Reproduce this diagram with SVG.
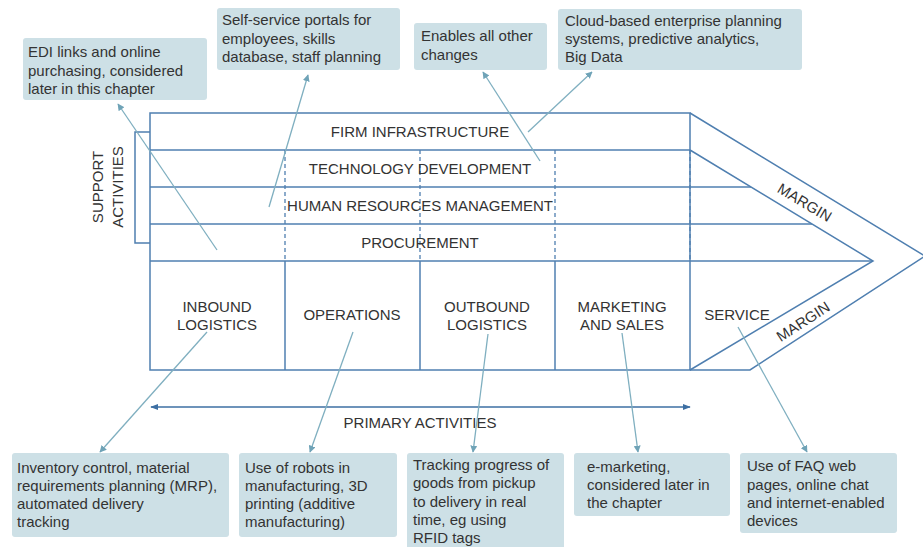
<svg xmlns="http://www.w3.org/2000/svg" width="923" height="547" viewBox="0 0 923 547">
<style>
.frame{fill:none;stroke:#4f7fb0;stroke-width:1.5}
.dash{fill:none;stroke:#4f7fb0;stroke-width:1.3;stroke-dasharray:4 3}
.lbl{font-family:"Liberation Sans",Arial,sans-serif;font-size:15px;fill:#333;text-anchor:middle}
.box{fill:#cde0e6;stroke:none}
.bt{font-family:"Liberation Sans",Arial,sans-serif;font-size:15px;fill:#333}
.con{fill:none;stroke:#7fafc0;stroke-width:1.3;marker-end:url(#ah)}
</style>
<defs>
<marker id="ah" viewBox="0 0 10 10" refX="9" refY="5" markerWidth="7" markerHeight="7" orient="auto" markerUnits="userSpaceOnUse">
<path d="M0,0 L10,5 L0,10 z" fill="#6fa3b7"/>
</marker>
<marker id="pa" viewBox="0 0 10 10" refX="9" refY="5" markerWidth="8" markerHeight="8" orient="auto-start-reverse" markerUnits="userSpaceOnUse">
<path d="M0,1 L10,5 L0,9 z" fill="#3d6fa3"/>
</marker>
</defs>

<g id="chain">
<rect class="frame" x="150" y="113" width="540" height="257"/>
<line class="frame" x1="150" y1="150" x2="690" y2="150"/>
<line class="frame" x1="150" y1="187" x2="751" y2="187"/>
<line class="frame" x1="150" y1="224" x2="812" y2="224"/>
<line class="frame" x1="150" y1="261" x2="873" y2="261"/>
<line class="frame" x1="285" y1="261" x2="285" y2="370"/>
<line class="frame" x1="420" y1="261" x2="420" y2="370"/>
<line class="frame" x1="555" y1="261" x2="555" y2="370"/>
<line class="dash" x1="285" y1="150" x2="285" y2="261"/>
<line class="dash" x1="420" y1="150" x2="420" y2="261"/>
<line class="dash" x1="555" y1="150" x2="555" y2="261"/>
<line class="dash" x1="690" y1="150" x2="690" y2="261"/>
<path class="frame" d="M690,113 L925,256 L750,370 L690,370"/>
<path class="frame" d="M690,150 L873,261 L690,370"/>
<path class="frame" d="M150,132 L135,132 L135,243 L150,243"/>
</g>

<g id="support-labels">
<text class="lbl" x="420" y="137">FIRM INFRASTRUCTURE</text>
<text class="lbl" x="420" y="174">TECHNOLOGY DEVELOPMENT</text>
<text class="lbl" x="420" y="211">HUMAN RESOURCES MANAGEMENT</text>
<text class="lbl" x="420" y="248">PROCUREMENT</text>
<text class="lbl" transform="translate(103,187) rotate(-90)">SUPPORT</text>
<text class="lbl" transform="translate(123,187) rotate(-90)">ACTIVITIES</text>
</g>

<g id="primary-labels">
<text class="lbl" x="217" y="312">INBOUND</text>
<text class="lbl" x="217" y="330">LOGISTICS</text>
<text class="lbl" x="352" y="320">OPERATIONS</text>
<text class="lbl" x="487" y="312">OUTBOUND</text>
<text class="lbl" x="487" y="330">LOGISTICS</text>
<text class="lbl" x="622" y="312">MARKETING</text>
<text class="lbl" x="622" y="330">AND SALES</text>
<text class="lbl" x="737" y="320">SERVICE</text>
<text class="lbl" transform="translate(802,207) rotate(31)">MARGIN</text>
<text class="lbl" transform="translate(806,326) rotate(-33)">MARGIN</text>
</g>

<g id="primary-activities">
<line x1="151" y1="407" x2="690" y2="407" stroke="#3d6fa3" stroke-width="1.3" marker-start="url(#pa)" marker-end="url(#pa)"/>
<text class="lbl" x="420" y="428">PRIMARY ACTIVITIES</text>
</g>

<g id="connectors">
<line class="con" x1="217" y1="250" x2="118" y2="104"/>
<line class="con" x1="269" y1="207" x2="308" y2="75"/>
<line class="con" x1="540" y1="161" x2="483" y2="72"/>
<line class="con" x1="528" y1="132" x2="592" y2="72"/>
<line class="con" x1="207" y1="332" x2="100" y2="452"/>
<line class="con" x1="353" y1="332" x2="310" y2="452"/>
<line class="con" x1="488" y1="334" x2="473" y2="452"/>
<line class="con" x1="622" y1="333" x2="638" y2="452"/>
<line class="con" x1="738" y1="327" x2="807" y2="452"/>
</g>

<g id="note-edi">
<rect class="box" x="23" y="38" width="184" height="62" rx="3"/>
<text class="bt" x="28" y="57">EDI links and online</text>
<text class="bt" x="28" y="76">purchasing, considered</text>
<text class="bt" x="28" y="94">later in this chapter</text>
</g>
<g id="note-hr">
<rect class="box" x="217" y="8" width="183" height="62" rx="3"/>
<text class="bt" x="222" y="25">Self-service portals for</text>
<text class="bt" x="222" y="44">employees, skills</text>
<text class="bt" x="222" y="62">database, staff planning</text>
</g>
<g id="note-tech">
<rect class="box" x="414" y="23" width="133" height="47" rx="3"/>
<text class="bt" x="421" y="41">Enables all other</text>
<text class="bt" x="421" y="60">changes</text>
</g>
<g id="note-firm">
<rect class="box" x="558" y="9" width="244" height="61" rx="3"/>
<text class="bt" x="565" y="26">Cloud-based enterprise planning</text>
<text class="bt" x="565" y="44">systems, predictive analytics,</text>
<text class="bt" x="565" y="62">Big Data</text>
</g>
<g id="note-inbound">
<rect class="box" x="12" y="453" width="217" height="84" rx="3"/>
<text class="bt" x="17" y="473">Inventory control, material</text>
<text class="bt" x="17" y="491">requirements planning (MRP),</text>
<text class="bt" x="17" y="509">automated delivery</text>
<text class="bt" x="17" y="527">tracking</text>
</g>
<g id="note-ops">
<rect class="box" x="239" y="453" width="158" height="84" rx="3"/>
<text class="bt" x="245" y="473">Use of robots in</text>
<text class="bt" x="245" y="491">manufacturing, 3D</text>
<text class="bt" x="245" y="509">printing (additive</text>
<text class="bt" x="245" y="527">manufacturing)</text>
</g>
<g id="note-outbound">
<rect class="box" x="407" y="453" width="157" height="100" rx="3"/>
<text class="bt" x="413" y="470">Tracking progress of</text>
<text class="bt" x="413" y="488">goods from pickup</text>
<text class="bt" x="413" y="507">to delivery in real</text>
<text class="bt" x="413" y="525">time, eg using</text>
<text class="bt" x="413" y="543">RFID tags</text>
</g>
<g id="note-marketing">
<rect class="box" x="574" y="453" width="156" height="63" rx="3"/>
<text class="bt" x="587" y="472">e-marketing,</text>
<text class="bt" x="587" y="490">considered later in</text>
<text class="bt" x="587" y="508">the chapter</text>
</g>
<g id="note-service">
<rect class="box" x="740" y="453" width="157" height="80" rx="3"/>
<text class="bt" x="747" y="471">Use of FAQ web</text>
<text class="bt" x="747" y="490">pages, online chat</text>
<text class="bt" x="747" y="508">and internet-enabled</text>
<text class="bt" x="747" y="526">devices</text>
</g>
</svg>
